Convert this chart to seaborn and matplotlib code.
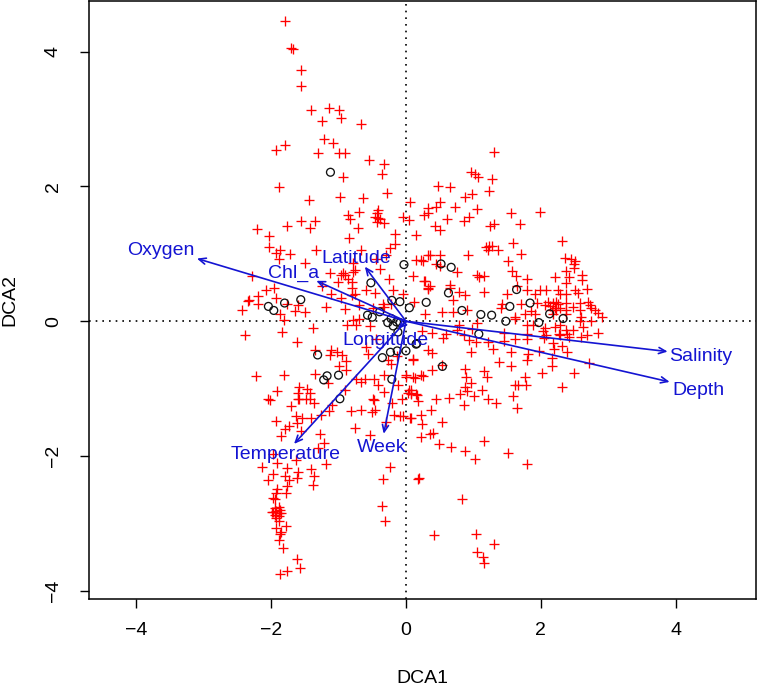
import pandas as pd
import matplotlib
matplotlib.use("Agg")
import matplotlib.pyplot as plt
import seaborn as sns

# species scores (DCA1, DCA2)
sp_top = [(-1.79,4.46),(-1.71,4.06),(-1.68,4.04),(-1.56,3.73),(-1.56,3.49),(-1.41,3.14),(-1.14,3.17),(-1.00,3.13),
    (-1.25,2.97),(-0.97,3.01),(-0.67,2.93),(-1.22,2.70),(-1.08,2.64),(-1.80,2.62),(-1.93,2.54),(-1.31,2.50),
    (-0.99,2.50),(-0.91,2.50),(-0.55,2.39),(-0.32,2.33),(-0.36,2.19),(-0.93,2.14),(-1.88,1.99),(-0.28,1.90),
    (-1.44,1.80),(-0.98,1.85),(-0.64,1.83),(0.06,1.77),(0.47,2.00),(0.65,1.99),(0.51,1.77),(0.44,1.70),
    (0.32,1.68),(0.33,1.61),(0.27,1.58),(-0.04,1.54),(0.05,1.50),(0.61,1.51),(0.43,1.41),(0.50,1.36),
    (-0.86,1.58),(-0.83,1.52),(-0.69,1.62),(-0.71,1.39),(-0.41,1.65),(-0.43,1.61),(-0.46,1.55),(-0.41,1.53),
    (-0.38,1.51),(-0.43,1.47),(-0.33,1.46),(-1.56,1.49),(-1.35,1.48),(-1.76,1.41),(-2.21,1.37),(-1.42,1.38)]

sp_left = [(-2.03,1.27),(-2.03,1.10),(-1.93,1.01),(-1.87,1.06),(-1.88,0.92),(-1.72,0.99),(-1.34,1.05),(-1.50,0.86),
    (-0.85,1.24),(-0.66,1.05),(-0.17,1.30),(0.15,1.28),(-0.17,1.15),(-0.24,1.08),(-0.29,0.98),(-0.44,0.93),
    (-2.29,0.67),(-1.12,0.71),(-0.93,0.71),(-0.96,0.68),(-0.91,0.68),(-0.86,0.63),(-0.80,0.58),(-1.01,0.58),
    (-0.79,0.86),(-0.76,0.76),(-0.78,0.73),(-0.39,0.78),(-0.25,0.63),(-0.19,0.47),(-0.04,0.41),(-0.59,0.47),
    (-0.46,0.42),(-0.80,0.49),(-0.80,0.39),(-0.76,0.40),(-1.11,0.40),(-1.25,0.53),(-0.96,0.35),(-2.08,0.47),
    (-1.96,0.49),(-2.19,0.37),(-1.93,0.35),(-2.33,0.32),(-2.34,0.30),(-2.19,0.26),(-2.43,0.16),(-1.76,0.26),
    (-1.60,0.24),(-1.64,0.15),(-1.50,0.13),(-1.87,0.10),(-1.81,0.02),(-1.18,0.21),(-0.90,0.18),(-0.69,0.24),
    (-0.49,0.19),(-0.34,0.26),(-0.32,0.21),(-0.22,0.26),(0.12,0.29),(0.28,0.59),(0.32,0.49),(0.10,0.67),
    (0.15,0.91),(0.23,0.91),(0.33,0.98),(-0.87,-0.05),(-0.79,0.02),(-0.69,0.04),(-0.74,-0.06),(-0.54,-0.07),
    (-1.38,-0.10),(-1.84,-0.16),(-2.38,-0.21),(-1.62,-0.31),(-1.35,-0.43),(-1.11,-0.43),(-1.13,-0.50),(-1.03,-0.45),
    (-0.95,-0.50),(-0.89,-0.59),(-1.00,-0.66),(-0.89,-0.73),(-0.60,-0.38),(-0.44,-0.26),(-0.56,-0.48),(-0.26,-0.58),
    (-0.22,-0.63),(-0.14,-0.52),(0.10,-0.57),(-2.23,-0.81),(-1.81,-0.80),(-1.35,-0.79),(-1.16,-0.91),(-1.91,-1.03),
    (-1.58,-0.98),(-1.47,-1.00),(-1.60,-1.06),(-1.43,-1.07),(-1.48,-1.15),(-1.60,-1.15),(-0.90,-1.02),(-0.74,-0.85),
    (-0.66,-0.90),(-0.61,-0.85),(-0.48,-0.85),(-0.32,-0.80),(-0.41,-0.95),(-0.33,-1.05),(-0.12,-0.95),(0.00,-0.80),
    (0.00,-0.83),(0.23,-0.80),(0.10,-0.82),(0.05,-1.02),(0.03,-1.07),(0.15,-1.08),(-0.49,-1.15),(-2.04,-1.15)]

sp_right = [(1.31,2.51),(0.97,2.22),(1.02,2.18),(1.07,2.14),(1.28,2.11),(1.23,1.93),(0.87,1.85),(0.98,1.89),
    (0.72,1.69),(1.06,1.67),(0.86,1.48),(0.93,1.55),(1.55,1.60),(1.99,1.62),(1.69,1.44),(1.24,1.42),(1.30,1.44),
    (1.58,1.16),(2.31,1.19),(1.19,1.10),(1.23,1.12),(1.27,1.11),(1.22,1.06),(1.37,1.06),(1.71,0.99),(0.92,0.98),
    (2.36,0.94),(2.45,0.92),(2.50,0.89),(2.49,0.85),(1.52,0.89),(2.37,0.75),(2.49,0.79),(1.57,0.74),(1.63,0.67),
    (1.05,0.69),(1.09,0.66),(1.15,0.67),(1.79,0.63),(2.21,0.66),(2.42,0.66),(2.61,0.69),(2.61,0.61),(2.38,0.56),
    (0.76,0.73),(0.50,0.98),(0.36,0.98),(0.25,0.90),(0.45,0.85),(0.50,0.82),(0.27,0.59),(0.36,0.52),(0.33,0.48),
    (0.66,0.54),(0.65,0.49),(0.79,0.44),(0.88,0.39),(1.16,0.43),(1.50,0.41),(0.69,0.31),(1.64,0.52),(1.80,0.46),
    (1.91,0.40),(1.98,0.46),(2.08,0.46),(2.26,0.46),(2.28,0.40),(2.37,0.41),(2.50,0.47),(2.55,0.42),(2.68,0.48),
    (0.53,0.14),(0.69,0.14),(0.28,0.11),(0.90,0.16),(1.42,0.25),(1.41,0.20),(1.71,0.26),(1.94,0.27),(2.06,0.24),
    (2.11,0.29),(2.18,0.27),(2.23,0.29),(2.26,0.25),(2.21,0.20),(2.28,0.20),(2.16,0.17),(2.23,0.17),(2.38,0.27),
    (2.37,0.17),(2.13,0.22),(2.48,0.21),(2.58,0.27),(2.58,0.17),(2.70,0.29),(2.73,0.24),(2.75,0.20),(2.80,0.16),
    (2.85,0.12),(2.90,0.07),(1.76,0.10),(1.86,0.15),(1.91,0.10),(1.61,0.07),(2.18,0.10),(2.38,0.11),(2.60,0.07),
    (2.58,0.00),(2.63,-0.08),(2.75,0.00),(2.48,-0.13),(2.41,-0.23),(2.38,-0.13),(2.28,-0.05),(2.21,-0.08),
    (2.28,-0.20),(2.06,-0.10),(2.03,-0.15),(2.08,-0.20),(1.89,-0.05),(1.79,-0.05),(1.62,0.03)]

sp_lower_right = [(0.79,-0.05),(0.75,-0.13),(1.05,-0.02),(0.98,-0.11),(0.24,-0.14),(0.38,-0.18),(0.60,-0.19),(0.55,-0.25),
    (0.86,-0.20),(0.94,-0.28),(1.04,-0.31),(1.22,-0.31),(1.45,-0.17),(1.45,-0.30),(1.62,-0.26),(1.79,-0.19),
    (1.79,-0.26),(2.05,-0.25),(2.27,-0.19),(2.39,-0.19),(2.59,-0.24),(2.69,-0.20),(2.85,-0.18),(2.18,-0.32),
    (2.32,-0.36),(2.19,-0.41),(2.39,-0.46),(1.97,-0.44),(1.81,-0.48),(1.55,-0.46),(1.29,-0.41),(0.97,-0.46),
    (0.33,-0.43),(0.38,-0.47),(0.11,-0.56),(0.54,-0.65),(0.39,-0.73),(0.25,-0.81),(0.14,-0.84),(0.87,-0.71),
    (1.16,-0.74),(1.20,-0.83),(0.89,-0.83),(0.96,-0.92),(0.87,-0.97),(0.90,-1.04),(0.80,-1.08),(1.12,-1.02),
    (1.01,-1.11),(0.64,-1.14),(0.45,-1.15),(0.86,-1.24),(1.22,-1.16),(1.34,-1.21),(1.59,-1.11),(1.65,-1.29),
    (1.62,-0.94),(1.66,-0.94),(1.78,-0.95),(1.77,-0.83),(1.38,-0.60),(1.56,-0.66),(1.80,-0.58),(2.17,-0.55),
    (2.16,-0.67),(2.02,-0.77),(2.49,-0.77),(2.72,-0.62),(2.32,-0.98),(0.08,-1.02),(0.17,-1.09),(0.18,-1.18),
    (0.08,-1.08),(0.37,-1.32),(0.22,-1.39),(0.24,-1.53),(0.07,-1.43),(0.53,-1.49),(0.36,-1.67),(0.40,-1.66),
    (0.23,-1.72),(0.49,-1.82),(0.67,-1.87),(0.87,-1.93),(1.03,-2.04),(1.16,-1.78),(1.52,-1.95),(1.80,-2.12),
    (0.20,-2.33),(0.83,-2.64),(0.42,-3.17),(1.04,-3.16),(1.31,-3.31),(1.06,-3.42),(1.14,-3.49),(1.16,-3.58)]

sp_lower_left = [(-2.02,-1.17),(-1.58,-1.16),(-1.43,-1.16),(-1.37,-1.21),(-1.71,-1.25),(-1.92,-1.48),(-1.63,-1.41),
    (-1.54,-1.43),(-1.41,-1.43),(-1.62,-1.51),(-1.73,-1.55),(-1.79,-1.60),(-1.56,-1.63),(-1.85,-1.70),(-1.26,-1.39),
    (-1.14,-1.33),(-1.09,-1.24),(-1.28,-1.67),(-1.22,-1.81),(-1.31,-1.88),(-1.97,-1.97),(-1.63,-2.06),(-1.91,-2.11),
    (-1.19,-2.12),(-2.13,-2.16),(-1.77,-2.18),(-1.97,-2.27),(-1.60,-2.23),(-1.41,-2.19),(-1.79,-2.30),(-2.05,-2.35),
    (-1.37,-2.30),(-1.62,-2.33),(-1.73,-2.36),(-1.38,-2.43),(-1.77,-2.45),(-1.78,-2.55),(-1.91,-2.49),(-1.93,-2.55),
    (-1.97,-2.62),(-1.94,-2.64),(-1.94,-2.77),(-1.89,-2.76),(-1.87,-2.80),(-1.92,-2.82),(-1.97,-2.83),(-1.88,-2.85),
    (-1.94,-2.87),(-1.89,-2.89),(-1.86,-2.84),(-1.92,-2.92),(-1.99,-2.83),(-1.88,-2.97),(-1.78,-3.04),(-1.92,-3.07),
    (-1.86,-3.12),(-1.87,-3.15),(-1.88,-3.24),(-1.83,-3.36),(-1.62,-3.52),(-1.57,-3.66),(-1.77,-3.71),(-1.87,-3.75),
    (-0.81,-1.33),(-0.67,-1.32),(-0.51,-1.34),(-0.46,-1.31),(-0.48,-1.17),(-0.20,-1.21),(-0.06,-1.16),(0.08,-1.07),
    (-0.29,-1.49),(-0.18,-1.39),(-0.09,-1.40),(-0.04,-1.41),(0.06,-1.44),(-0.75,-1.59),(-0.53,-1.69),(-0.24,-2.16),
    (-0.34,-2.34),(-0.35,-2.74),(-0.31,-2.96),(0.18,-2.34)]

# site scores (black circles)
sites = [(-1.12,2.21),(-0.03,0.84),(-0.52,0.57),(-0.21,0.31),(-0.09,0.29),(0.05,0.20),(0.30,0.28),(-1.56,0.32),
    (-1.80,0.27),(-2.04,0.22),(-1.96,0.16),(-0.39,0.14),(-0.57,0.09),(-0.50,0.06),(-0.27,-0.02),(-0.22,0.04),
    (-0.19,-0.07),(-0.14,-0.01),(-0.09,-0.02),(-0.12,-0.16),(0.15,-0.34),(0.00,-0.44),(-0.13,-0.44),(-0.23,-0.46),
    (-0.35,-0.54),(-0.21,-0.86),(-1.31,-0.50),(-1.00,-0.80),(-1.17,-0.81),(-1.22,-0.87),(-0.98,-1.15),(0.52,0.85),
    (0.67,0.80),(0.63,0.42),(0.83,0.16),(1.11,0.10),(1.27,0.09),(1.64,0.47),(1.54,0.22),(1.84,0.27),(1.48,0.00),
    (2.13,0.11),(2.33,0.04),(1.97,-0.02),(1.08,-0.19),(0.54,-0.67),(0.16,-0.33)]

# environmental vectors
env_names = ["Oxygen", "Chl_a", "Latitude", "Longitude", "Temperature", "Week", "Salinity", "Depth"]
env_x = [-3.10, -1.33, -0.61, -0.12, -1.66, -0.33, 3.88, 3.91]
env_y = [0.93, 0.60, 0.81, -0.11, -1.82, -1.67, -0.45, -0.90]
label_x = [-3.63, -1.67, -0.73, -0.31, -1.79, -0.36, 4.37, 4.33]
label_y = [1.05, 0.71, 0.93, -0.29, -1.98, -1.88, -0.53, -1.02]

ticks = [-4, -2, 0, 2, 4]

sns.set_style("ticks")
plt.rcParams['font.family'] = ['Liberation Sans', 'DejaVu Sans']

species = pd.DataFrame(sp_top + sp_left + sp_right + sp_lower_right + sp_lower_left, columns=["DCA1", "DCA2"])
site_df = pd.DataFrame(sites, columns=["DCA1", "DCA2"])

fig = plt.figure(figsize=(7.57, 6.87), dpi=100)
ax = fig.add_axes([89 / 757, 1 - 599 / 687, 667 / 757, 598 / 687])

ax.axhline(0, color="black", linestyle=(0, (1, 3)), linewidth=1.2, zorder=1)
ax.axvline(0, color="black", linestyle=(0, (1, 3)), linewidth=1.2, zorder=1)

sns.scatterplot(data=species, x="DCA1", y="DCA2", marker="+", color="#ff0000", s=42, linewidth=0.95, ax=ax, zorder=2)
sns.scatterplot(data=site_df, x="DCA1", y="DCA2", marker="o", facecolor="none", edgecolor="#111111", s=32,
                linewidth=0.95, ax=ax, zorder=3)

for name, x, y, lx, ly in zip(env_names, env_x, env_y, label_x, label_y):
    ax.annotate("", xy=(x, y), xytext=(0, 0),
                arrowprops=dict(arrowstyle="->,head_length=0.5,head_width=0.22", color="#1414d2", lw=1.2,
                                shrinkA=0, shrinkB=0), zorder=4)
    ax.text(lx, ly, name, color="#1414d2", fontsize=14, ha="center", va="center", zorder=5)

ax.set_xlim(-4.70, 5.19)
ax.set_ylim(-4.12, 4.75)
ax.set_xticks(ticks)
ax.set_yticks(ticks)
ax.tick_params(axis="x", length=6.5, width=1.0, labelsize=14, pad=10, color="black", labelcolor="black")
ax.tick_params(axis="y", length=6.5, width=1.0, labelsize=14, pad=13, color="black", labelcolor="black")
for lab in ax.get_yticklabels():
    lab.set_rotation(90)
    lab.set_va("center")
ax.set_xlabel("DCA1", fontsize=14, labelpad=22.5, color="black")
ax.set_ylabel("DCA2", fontsize=14, labelpad=19, color="black")
for sp in ax.spines.values():
    sp.set_visible(True)
    sp.set_linewidth(1.1)
    sp.set_color("black")

fig.savefig("out.png", dpi=100)
